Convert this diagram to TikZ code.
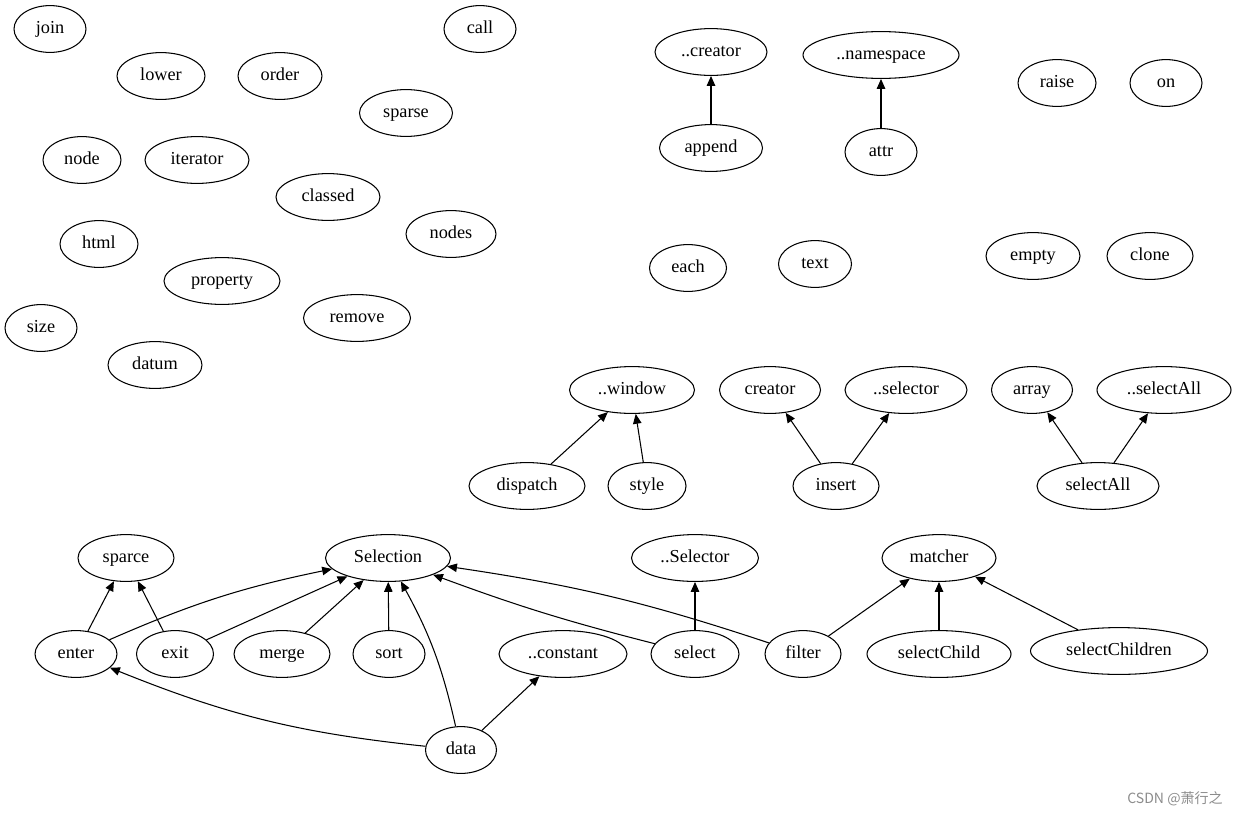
\documentclass[tikz,border=0pt]{standalone}
\usepackage{fontspec}
\setmainfont{Liberation Serif}
\newfontfamily\cjkfont{Noto Sans CJK SC}
\usetikzlibrary{shapes,arrows.meta,positioning}

\begin{document}
\begin{tikzpicture}[x=0.025cm, y=-0.025cm,
  oval/.style={ellipse, draw, line width=0.75pt, inner sep=0pt, minimum width={#1*0.025cm}, minimum height=1.17cm, text height=8.6pt, text depth=2.6pt, font=\fontsize{13}{15}\selectfont},
  oval/.default=72,
  arr/.style={-{Triangle[length=7pt, width=6pt]}, line width=0.75pt}
]
  \useasboundingbox (0,0) rectangle (1240,816);

  % loose nodes
  \node[oval=72] (join) at (50,29) {join};
  \node[oval=88] (lower) at (161,76) {lower};
  \node[oval=84] (order) at (280,76) {order};
  \node[oval=72] (call) at (480,29) {call};
  \node[oval=93] (sparse) at (406,113) {sparse};
  \node[oval=78] (nodeK) at (82,160) {node};
  \node[oval=104] (iterator) at (197,160) {iterator};
  \node[oval=104] (classed) at (328,197) {classed};
  \node[oval=90] (nodes) at (451,234) {nodes};
  \node[oval=78] (html) at (99,244) {html};
  \node[oval=116] (property) at (222,281) {property};
  \node[oval=107] (remove) at (357,318) {remove};
  \node[oval=72] (size) at (41,328) {size};
  \node[oval=94] (datum) at (155,365) {datum};
  \node[oval=78] (raise) at (1057,83) {raise};
  \node[oval=72] (on) at (1166,83) {on};
  \node[oval=77] (each) at (688,268) {each};
  \node[oval=73] (text) at (815,264) {text};
  \node[oval=94] (empty) at (1033,256) {empty};
  \node[oval=86] (clone) at (1150,256) {clone};

  % namespace pairs
  \node[oval=112] (dcreator) at (711,52) {..creator};
  \node[oval=156] (dnamespace) at (881,55) {..namespace};
  \node[oval=103] (append) at (711,148) {append};
  \node[oval=72] (attr) at (881,152) {attr};

  \node[oval=125] (dwindow) at (632,390) {..window};
  \node[oval=101] (creator) at (770,390) {creator};
  \node[oval=122] (dselector) at (906,390) {..selector};
  \node[oval=81] (array) at (1032,390) {array};
  \node[oval=134] (dselectAll) at (1164,390) {..selectAll};
  \node[oval=116] (dispatch) at (527,486) {dispatch};
  \node[oval=78] (style) at (647,486) {style};
  \node[oval=86] (insert) at (836,486) {insert};
  \node[oval=122] (selectAll) at (1098,486) {selectAll};

  % selection graph
  \node[oval=96] (sparce) at (126,558) {sparce};
  \node[oval=125] (Selection) at (388,558) {Selection};
  \node[oval=127] (dSelector) at (695,558) {..Selector};
  \node[oval=114] (matcher) at (939,558) {matcher};
  \node[oval=82] (enter) at (76,654) {enter};
  \node[oval=77] (exit) at (175,654) {exit};
  \node[oval=96] (merge) at (282,654) {merge};
  \node[oval=72] (sort) at (389,654) {sort};
  \node[oval=128] (dconstant) at (563,654) {..constant};
  \node[oval=88] (select) at (695,654) {select};
  \node[oval=76] (filter) at (803,654) {filter};
  \node[oval=144] (selectChild) at (939,654) {selectChild};
  \node[oval=177] (selectChildren) at (1119,651) {selectChildren};
  \node[oval=71] (data) at (461,750) {data};

  \draw[arr] (append) -- (dcreator);
  \draw[arr] (attr) -- (dnamespace);
  \draw[arr] (dispatch) -- (dwindow);
  \draw[arr] (style) -- (dwindow);
  \draw[arr] (insert) -- (creator);
  \draw[arr] (insert) -- (dselector);
  \draw[arr] (selectAll) -- (array);
  \draw[arr] (selectAll) -- (dselectAll);

  \draw[arr] (enter) -- (sparce);
  \draw[arr] (exit) -- (sparce);
  \draw[arr] (enter) to[bend left=6] (Selection);
  \draw[arr] (exit) -- (Selection);
  \draw[arr] (merge) -- (Selection);
  \draw[arr] (sort) -- (Selection);
  \draw[arr] (data) to[bend right=8] (Selection);
  \draw[arr] (select) to[bend left=3] (Selection);
  \draw[arr] (filter) to[bend right=5] (Selection);
  \draw[arr] (select) -- (dSelector);
  \draw[arr] (filter) -- (matcher);
  \draw[arr] (selectChild) -- (matcher);
  \draw[arr] (selectChildren) -- (matcher);
  \draw[arr] (data) to[bend left=8] (enter);
  \draw[arr] (data) -- (dconstant);

  \node[font=\cjkfont\fontsize{10}{12}\selectfont, text=black!45] (mark) at (1175,799) {CSDN @萧行之};
\end{tikzpicture}
\end{document}
